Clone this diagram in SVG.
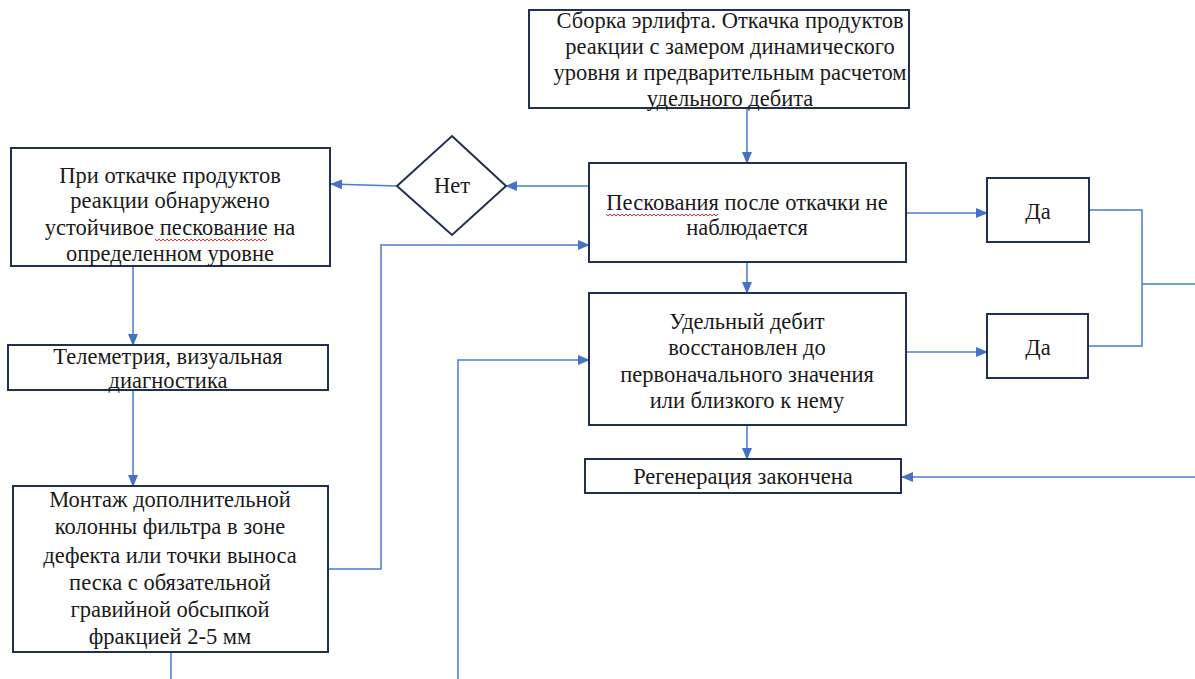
<svg xmlns="http://www.w3.org/2000/svg" width="1195" height="679" viewBox="0 0 1195 679" font-family="Liberation Serif, DejaVu Serif, serif">
<style>
.box{fill:#fff;stroke:#1f3050;stroke-width:2}
.t{font-family:"Liberation Serif",serif;font-size:22.5px;fill:#1a1a1a;text-anchor:middle}
.c{fill:none;stroke:#4a7bd0;stroke-width:1.5}
.sq{fill:none;stroke:#e03030;stroke-width:1}
</style>
<defs>
<marker id="ah" markerUnits="userSpaceOnUse" markerWidth="12" markerHeight="10" refX="11" refY="5" orient="auto">
<path d="M0,0 L12,5 L0,10 Z" fill="#4472c4"/>
</marker>
</defs>
<rect width="1195" height="679" fill="#fff"/>
<g id="connectors">
<path class="c" d="M747 109 V163" marker-end="url(#ah)"/>
<path class="c" d="M589 186 H506" marker-end="url(#ah)"/>
<path class="c" d="M397 186 L331 184" marker-end="url(#ah)"/>
<path class="c" d="M133 266 V345" marker-end="url(#ah)"/>
<path class="c" d="M133 390 V486" marker-end="url(#ah)"/>
<path class="c" d="M328 569 H381 V245 H589" marker-end="url(#ah)"/>
<path class="c" d="M171 652 V679"/>
<path class="c" d="M458 679 V360 H589" marker-end="url(#ah)"/>
<path class="c" d="M747 262 V293" marker-end="url(#ah)"/>
<path class="c" d="M747 425 V459" marker-end="url(#ah)"/>
<path class="c" d="M1195 477 H902" marker-end="url(#ah)"/>
<path class="c" d="M906 213 H987" marker-end="url(#ah)"/>
<path class="c" d="M906 352 H987" marker-end="url(#ah)"/>
<path class="c" d="M1089 210 H1142 V346 H1088"/>
<path class="c" d="M1142 284 H1195"/>
</g>
<g id="n_top">
<rect class="box" x="529" y="10" width="380" height="98"/>
<text class="t" x="730" y="28">Сборка эрлифта. Откачка продуктов</text>
<text class="t" x="730" y="54">реакции с замером динамического</text>
<text class="t" x="730" y="80">уровня и предварительным расчетом</text>
<text class="t" x="730" y="106">удельного дебита</text>
</g>
<g id="n_pesk">
<rect class="box" x="589" y="163" width="317" height="99"/>
<text class="t" x="747" y="210">Пескования после откачки не</text>
<text class="t" x="747" y="235">наблюдается</text>
<path class="sq" d="M606 214 l2 2 l2 -2 l2 2 l2 -2 l2 2 l2 -2 l2 2 l2 -2 l2 2 l2 -2 l2 2 l2 -2 l2 2 l2 -2 l2 2 l2 -2 l2 2 l2 -2 l2 2 l2 -2 l2 2 l2 -2 l2 2 l2 -2 l2 2 l2 -2 l2 2 l2 -2 l2 2 l2 -2 l2 2 l2 -2 l2 2 l2 -2 l2 2 l2 -2 l2 2 l2 -2 l2 2 l2 -2 l2 2 l2 -2 l2 2 l2 -2 l2 2 l2 -2 l2 2 l2 -2 l2 2 l2 -2 l2 2 l2 -2 l2 2 l2 -2 l2 2 l2 -2"/>
</g>
<g id="n_net">
<polygon class="box" points="452,136 506,186 452,235 397,186"/>
<text class="t" x="452" y="193">Нет</text>
</g>
<g id="n_pri">
<rect class="box" x="11" y="148" width="319" height="118"/>
<text class="t" x="170" y="183">При откачке продуктов</text>
<text class="t" x="170" y="208">реакции обнаружено</text>
<text class="t" x="170" y="235">устойчивое пескование на</text>
<text class="t" x="170" y="261">определенном уровне</text>
<path class="sq" d="M155 239 l2 2 l2 -2 l2 2 l2 -2 l2 2 l2 -2 l2 2 l2 -2 l2 2 l2 -2 l2 2 l2 -2 l2 2 l2 -2 l2 2 l2 -2 l2 2 l2 -2 l2 2 l2 -2 l2 2 l2 -2 l2 2 l2 -2 l2 2 l2 -2 l2 2 l2 -2 l2 2 l2 -2 l2 2 l2 -2 l2 2 l2 -2 l2 2 l2 -2 l2 2 l2 -2 l2 2 l2 -2 l2 2 l2 -2 l2 2 l2 -2 l2 2 l2 -2 l2 2 l2 -2 l2 2 l2 -2 l2 2 l2 -2 l2 2 l2 -2 l2 2 l2 -2"/>
</g>
<g id="n_tele">
<rect class="box" x="8" y="345" width="320" height="45"/>
<text class="t" x="168" y="364">Телеметрия, визуальная</text>
<text class="t" x="168" y="388">диагностика</text>
</g>
<g id="n_montazh">
<rect class="box" x="13" y="486" width="315" height="166"/>
<text class="t" x="170" y="507">Монтаж дополнительной</text>
<text class="t" x="170" y="534">колонны фильтра в зоне</text>
<text class="t" x="170" y="563">дефекта или точки выноса</text>
<text class="t" x="170" y="590">песка с обязательной</text>
<text class="t" x="170" y="617">гравийной обсыпкой</text>
<text class="t" x="170" y="644">фракцией 2-5 мм</text>
</g>
<g id="n_udel">
<rect class="box" x="589" y="293" width="317" height="132"/>
<text class="t" x="747" y="329">Удельный дебит</text>
<text class="t" x="747" y="355">восстановлен до</text>
<text class="t" x="747" y="382">первоначального значения</text>
<text class="t" x="747" y="408">или близкого к нему</text>
</g>
<g id="n_regen">
<rect class="box" x="585" y="459" width="316" height="34"/>
<text class="t" x="743" y="484">Регенерация закончена</text>
</g>
<g id="n_da1">
<rect class="box" x="987" y="178" width="102" height="64"/>
<text class="t" x="1038" y="219">Да</text>
</g>
<g id="n_da2">
<rect class="box" x="987" y="314" width="101" height="64"/>
<text class="t" x="1038" y="355">Да</text>
</g>
</svg>
